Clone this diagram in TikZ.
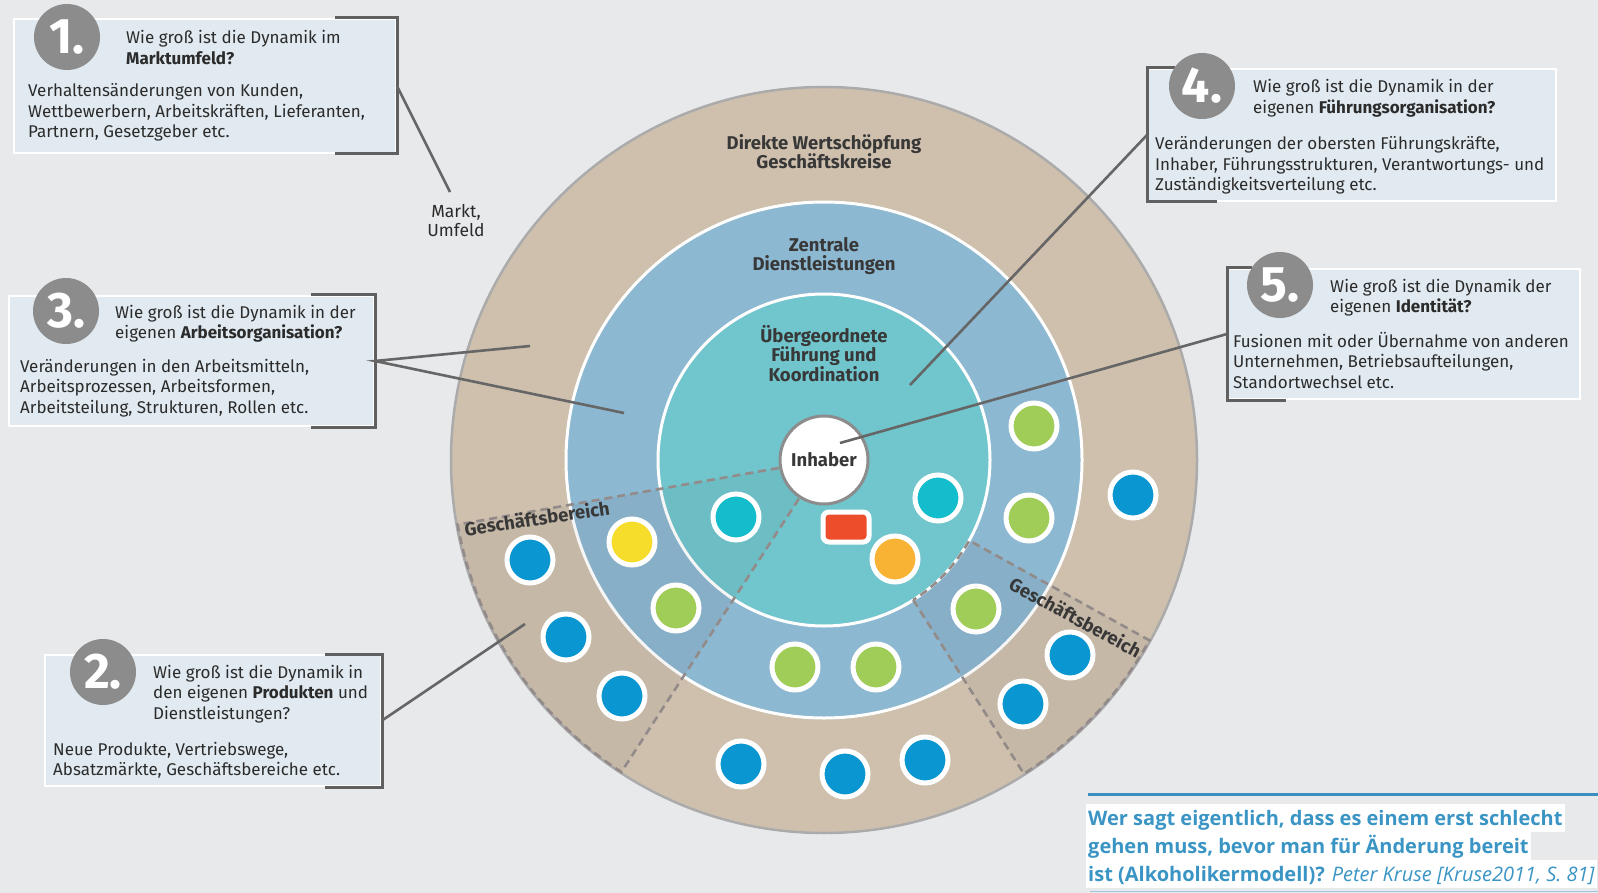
\documentclass[tikz,border=0pt]{standalone}
\usepackage{fontspec}
\setmainfont{Fira Sans}
\newfontfamily\quotefont{Open Sans}
\usetikzlibrary{calc}
\definecolor{bgc}{HTML}{E8E9EB}
\definecolor{ctan}{HTML}{CFC0AE}
\definecolor{cblue}{HTML}{8DB8D1}
\definecolor{cteal}{HTML}{71C5CC}
\definecolor{boxfill}{HTML}{E1EAF0}
\definecolor{bracketc}{HTML}{606060}
\definecolor{connc}{HTML}{666666}
\definecolor{numgray}{HTML}{8C8C8C}
\definecolor{txtc}{HTML}{2B2B2B}
\definecolor{ctext}{HTML}{383838}
\definecolor{dashc}{HTML}{938B89}
\definecolor{outl}{HTML}{ABABAB}
\definecolor{dotblue}{HTML}{0A96D1}
\definecolor{dotgreen}{HTML}{A0CC58}
\definecolor{dotyellow}{HTML}{F6DD2C}
\definecolor{dotcyan}{HTML}{13BDCC}
\definecolor{dotorange}{HTML}{F9B334}
\definecolor{dotred}{HTML}{EE4D2C}
\definecolor{quoteblue}{HTML}{3A95C5}
\definecolor{quoteline}{HTML}{3A8EC0}
\tikzset{
  qbox/.style={rectangle, fill=boxfill, draw=white, line width=2pt, anchor=north west, inner sep=0pt},
  numc/.style={circle, fill=numgray, minimum size=66pt, inner sep=0pt, text=white, font=\fontsize{50}{50}\selectfont\bfseries},
  btxt/.style={anchor=base west, inner sep=0pt, align=left, text=txtc, font=\fontsize{17}{20.5}\selectfont},
  ctxt/.style={anchor=base, inner sep=0pt, align=center, text=ctext, font=\fontsize{18.5}{19.2}\selectfont\bfseries},
  brk/.style={draw=bracketc, line width=3pt},
  conn/.style={draw=connc, line width=2.6pt},
  sdash/.style={draw=dashc, line width=2.6pt, dash pattern=on 8pt off 5pt},
  dotc/.style={circle, draw=white, line width=5pt, minimum size=46pt, inner sep=0pt},
  qline/.style={anchor=base west, fill=white, inner xsep=2pt, inner ysep=0pt, text height=21pt, text depth=7pt, text=quoteblue, font=\quotefont\fontsize{20}{28}\selectfont\bfseries},
}
\begin{document}
\begin{tikzpicture}[x=1pt,y=-1pt]
\useasboundingbox (0,0) rectangle (1598,893);
\fill[bgc] (0,0) rectangle (1598,893);

% ---- main circle ----
\coordinate (C) at (824,460);
\fill[ctan] (C) circle[radius=373];
\draw[outl, line width=2.5pt] (C) circle[radius=373];
\filldraw[fill=cblue, draw=white, line width=3pt] (C) circle[radius=258];
\filldraw[fill=cteal, draw=white, line width=3pt] (C) circle[radius=166];

% sectors
\fill[black, opacity=0.04] (C) -- ($(C)+(170:373)$) arc[start angle=170, end angle=123, radius=373] -- cycle;
\fill[black, opacity=0.04] ($(C)+(29:166)$) -- ($(C)+(29:373)$) arc[start angle=29, end angle=57.5, radius=373] -- ($(C)+(57.5:166)$) arc[start angle=57.5, end angle=29, radius=166] -- cycle;
\draw[sdash] ($(C)+(170:46)$) -- ($(C)+(170:372)$) arc[start angle=170, end angle=123, radius=372] -- ($(C)+(123:46)$);
\draw[sdash] ($(C)+(57.5:166)$) -- ($(C)+(57.5:372)$) arc[start angle=57.5, end angle=29, radius=372] -- ($(C)+(29:166)$) arc[start angle=29, end angle=57.5, radius=166];

% ring labels (base = last line)
\node[ctxt] (lab1) at (824,169) {Direkte Wertschöpfung\\Geschäftskreise};
\node[ctxt] (lab2) at (824,271) {Zentrale\\Dienstleistungen};
\node[ctxt] (lab3) at (824,381) {Übergeordnete\\Führung und\\Koordination};
\node[ctxt, anchor=center, rotate=8.5] (gb1) at (537,518) {Geschäftsbereich};
\node[ctxt, anchor=center, rotate=-28.5] (gb2) at (1075.5,617) {Geschäftsbereich};

% dots
\foreach \n/\p in {bl1/{(530,560)}, bl2/{(566,637)}, bl3/{(622,696)}, bl4/{(741,764)}, bl5/{(845,774)}, bl6/{(925,760)}, bl7/{(1023,704)}, bl8/{(1070,655)}, bl9/{(1133,495)}}
  \node[dotc, fill=dotblue] (\n) at \p {};
\foreach \n/\p in {gr1/{(1034,426)}, gr2/{(1029,518)}, gr3/{(976,609)}, gr4/{(876,667)}, gr5/{(795,667)}, gr6/{(676,608)}}
  \node[dotc, fill=dotgreen] (\n) at \p {};
\node[dotc, fill=dotyellow] (ye1) at (632,542) {};
\node[dotc, fill=dotcyan] (cy1) at (736,517) {};
\node[dotc, fill=dotcyan] (cy2) at (938,498) {};
\node[dotc, fill=dotorange] (or1) at (895,559) {};
\node[rectangle, rounded corners=6pt, fill=dotred, draw=white, line width=5pt, minimum width=46pt, minimum height=30pt, inner sep=0pt] (red1) at (846,527) {};

% Inhaber
\node[circle, fill=white, draw=numgray, line width=3pt, minimum size=88pt, inner sep=0pt, text=ctext, font=\fontsize{18.5}{20}\selectfont\bfseries] (inh) at (C) {Inhaber};

% ---- boxes ----
% Box 1
\node[qbox, minimum width=382pt, minimum height=134pt] (b1) at (13,18) {};
\draw[brk] ([xshift=-62pt]b1.north east) -- (b1.north east) -- (b1.south east) -- ([xshift=-62pt]b1.south east);
\node[numc] (n1) at (67,37) {1.};
\node[btxt] (t1) at (126,64.5) {Wie groß ist die Dynamik im\\\textbf{Marktumfeld?}};
\node[btxt] (d1) at (28,138) {Verhaltensänderungen von Kunden,\\Wettbewerbern, Arbeitskräften, Lieferanten,\\Partnern, Gesetzgeber etc.};
\node[anchor=base, inner sep=0pt, align=center, text=txtc, font=\fontsize{17.5}{19}\selectfont] (markt) at (456,237) {Markt,\\Umfeld};
\coordinate (m1) at (450,192);
\draw[conn] (b1.east) -- (m1);

% Box 3
\node[qbox, minimum width=365pt, minimum height=130pt] (b3) at (8,295) {};
\draw[brk] ([xshift=-64pt]b3.north east) -- (b3.north east) -- (b3.south east) -- ([xshift=-64pt]b3.south east);
\node[numc] (n3) at (66,311) {3.};
\node[btxt] (t3) at (115,338.5) {Wie groß ist die Dynamik in der\\eigenen \textbf{Arbeitsorganisation?}};
\node[btxt] (d3) at (20,413) {Veränderungen in den Arbeitsmitteln,\\Arbeitsprozessen, Arbeitsformen,\\Arbeitsteilung, Strukturen, Rollen etc.};
\coordinate (a1) at (530,346);
\coordinate (a2) at (624,413);
\draw[conn] (a1) -- (b3.east) -- (a2);

% Box 2
\node[qbox, minimum width=336pt, minimum height=131pt] (b2) at (44,654) {};
\draw[brk] ([xshift=-57pt]b2.north east) -- (b2.north east) -- (b2.south east) -- ([xshift=-57pt]b2.south east);
\node[numc] (n2) at (103,672) {2.};
\node[btxt] (t2) at (153,719) {Wie groß ist die Dynamik in\\den eigenen \textbf{Produkten} und\\Dienstleistungen?};
\node[btxt] (d2) at (53,775.5) {Neue Produkte, Vertriebswege,\\Absatzmärkte, Geschäftsbereiche etc.};
\coordinate (p1) at (525,624);
\draw[conn] (b2.east) -- (p1);

% Box 4
\node[qbox, minimum width=408pt, minimum height=132pt] (b4) at (1147,68) {};
\draw[brk] ([xshift=28pt]b4.north west) -- (b4.north west) -- (b4.south west) -- ([xshift=70pt]b4.south west);
\node[numc] (n4) at (1202,86) {4.};
\node[btxt] (t4) at (1253,113.5) {Wie groß ist die Dynamik in der\\eigenen \textbf{Führungsorganisation?}};
\node[btxt] (d4) at (1155,191) {Veränderungen der obersten Führungskräfte,\\Inhaber, Führungsstrukturen, Verantwortungs- und\\Zuständigkeitsverteilung etc.};
\coordinate (f1) at (910,385);
\draw[conn] (b4.west) -- (f1);

% Box 5
\node[qbox, minimum width=352pt, minimum height=130pt] (b5) at (1227,268) {};
\draw[brk] ([xshift=25pt]b5.north west) -- (b5.north west) -- (b5.south west) -- ([xshift=59pt]b5.south west);
\node[numc] (n5) at (1280,285) {5.};
\node[btxt] (t5) at (1330,312.5) {Wie groß ist die Dynamik der\\eigenen \textbf{Identität?}};
\node[btxt] (d5) at (1233,388) {Fusionen mit oder Übernahme von anderen\\Unternehmen, Betriebsaufteilungen,\\Standortwechsel etc.};
\coordinate (i1) at (840,443);
\draw[conn] (b5.west) -- (i1);

% ---- quote ----
\draw[quoteline, line width=3pt] (1088,794) -- (1598,794);
\node[qline] (q1) at (1086,825) {Wer sagt eigentlich, dass es einem erst schlecht};
\node[qline] (q2) at (1086,853) {gehen muss, bevor man für Änderung bereit};
\node[qline] (q3) at (1086,881) {ist (Alkoholikermodell)? {\mdseries\itshape Peter Kruse [Kruse2011, S. 81]}};
\draw[quoteline!50!white, line width=1.5pt] (1090,891.5) -- (1598,891.5);
\end{tikzpicture}
\end{document}
